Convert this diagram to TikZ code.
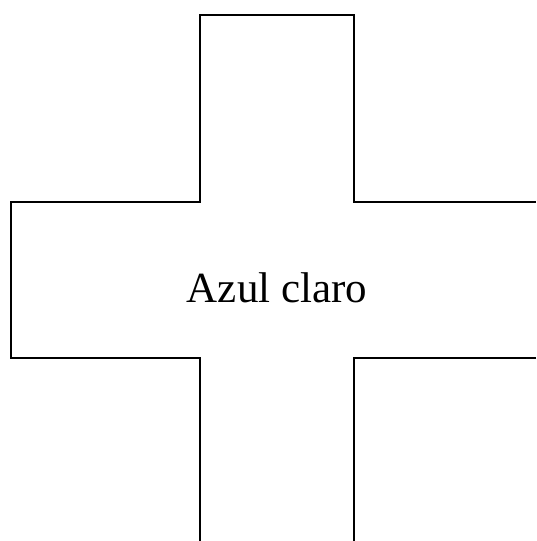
\documentclass[tikz,border=0pt]{standalone}
\usepackage{fontspec}
\setmainfont{Liberation Serif}
\usetikzlibrary{positioning}

\begin{document}
\begin{tikzpicture}[x=1pt,y=1pt,outline/.style={draw=black,line width=1.8pt,line join=miter},
                    caption/.style={font=\fontsize{43}{50}\selectfont,inner sep=0pt}]
                    \useasboundingbox (0,0) rectangle (536,541);
                    \coordinate (TL) at (200,526);
                    \coordinate (TR) at (354,526);
                    \coordinate (ML) at (200,339);
                    \coordinate (MR) at (354,339);
                    \coordinate (BL) at (200,183);
                    \coordinate (BR) at (354,183);
                    \coordinate (LU) at (11,339);
                    \coordinate (LD) at (11,183);
                    \coordinate (RU) at (536,339);
                    \coordinate (RD) at (536,183);
                    \coordinate (DL) at (200,0);
                    \coordinate (DR) at (354,0);
                    \node[caption,anchor=base] (azul) at (277,238) {Azul claro};
                    \draw[outline] (DL) -- (BL) -- (LD) -- (LU) -- (ML) -- (TL) -- (TR) -- (MR) -- (RU);
                    \draw[outline] (RD) -- (BR) -- (DR);
                \end{tikzpicture}
\end{document}
